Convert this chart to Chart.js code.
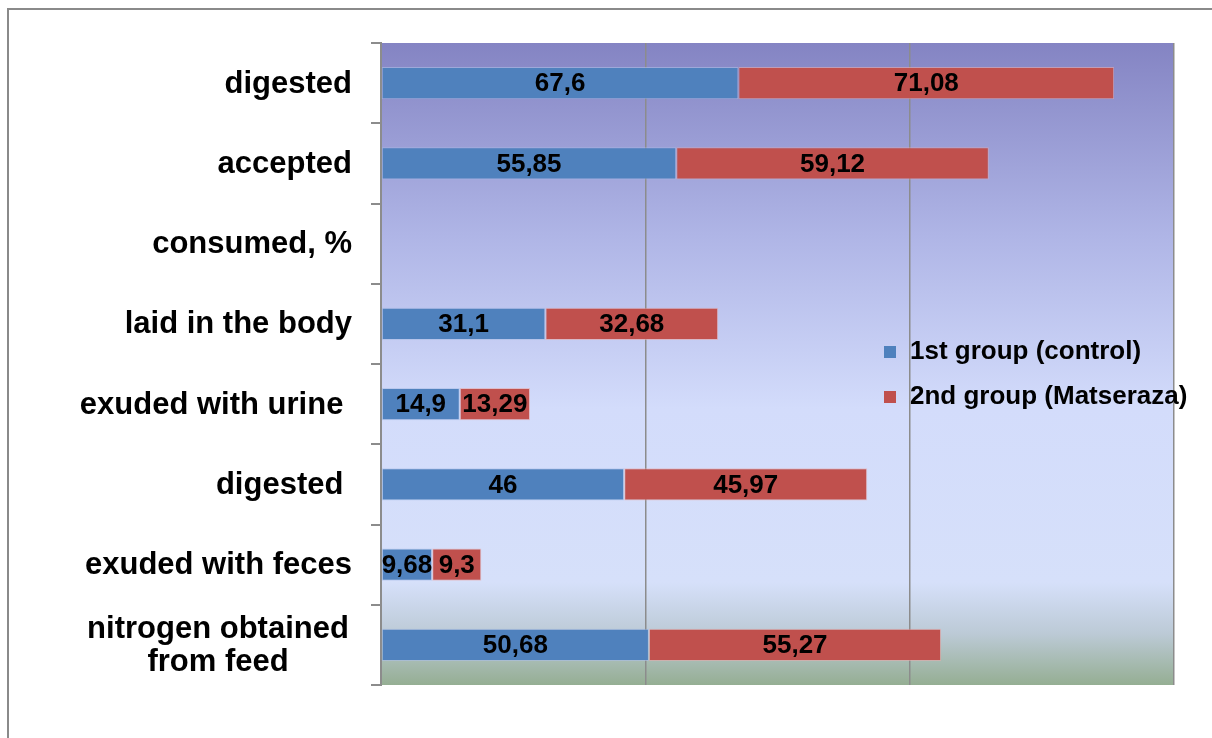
<!DOCTYPE html>
<html>
<head>
<meta charset="utf-8">
<script src="https://cdn.jsdelivr.net/npm/chart.js@4"></script>
<style>
  html, body { margin: 0; padding: 0; background: #fff; overflow: hidden; }
  #wrap { position: relative; width: 1212px; height: 738px; }
  #frame { position: absolute; left: 7px; top: 8px; width: 1300px; height: 800px;
           border-left: 2px solid #8a8a8a; border-top: 2px solid #8a8a8a; }
  canvas { position: absolute; left: 0; top: 0; }
</style>
</head>
<body>
<div id="wrap">
  <div id="frame"></div>
  <canvas id="grafico" width="1212" height="738"></canvas>
</div>
<script>
// categorias de arriba hacia abajo
const categorias = [
    'digested',
    'accepted',
    'consumed, %',
    'laid in the body',
    'exuded with urine ',
    'digested ',
    'exuded with feces',
    ['nitrogen obtained', 'from feed']
];
const grupo1 = [67.6, 55.85, null, 31.1, 14.9, 46, 9.68, 50.68];
const grupo2 = [71.08, 59.12, null, 32.68, 13.29, 45.97, 9.3, 55.27];
const nombresSeries = ['1st group (control)', '2nd group (Matseraza)'];
const colores = ['#4f81bd', '#c0504d'];
const ticksX = [0, 50, 100, 150];

const familia = '"Liberation Sans", Arial, sans-serif';
const fuenteEtiquetas = 'bold 31px ' + familia;
const fuenteValores = 'bold 26px ' + familia;

// fondo degradado del area del grafico
const fondoPlugin = {
    id: 'fondo',
    beforeDraw(chart) {
        const { ctx, chartArea: a } = chart;
        const g = ctx.createLinearGradient(0, a.top, 0, a.bottom);
        g.addColorStop(0, '#8484c3');
        g.addColorStop(0.3, '#afb5e6');
        g.addColorStop(0.57, '#d3dcfb');
        g.addColorStop(0.84, '#d6e0fa');
        g.addColorStop(0.92, '#bccad6');
        g.addColorStop(1, '#95ae93');
        ctx.save();
        ctx.fillStyle = g;
        ctx.fillRect(a.left, a.top, a.right - a.left, a.bottom - a.top);
        ctx.restore();
    }
};

// etiquetas del eje Y, valores y leyenda
const textosPlugin = {
    id: 'textos',
    afterDraw(chart) {
        const { ctx } = chart;
        const y = chart.scales.y;
        ctx.save();
        ctx.fillStyle = '#000';
        ctx.textBaseline = 'middle';

        // etiquetas de categoria
        ctx.font = fuenteEtiquetas;
        categorias.forEach((cat, i) => {
            const py = y.getPixelForValue(i) + 1;
            if (Array.isArray(cat)) {
                ctx.textAlign = 'center';
                ctx.fillText(cat[0], 218, py - 16);
                ctx.fillText(cat[1], 218, py + 17);
            } else {
                ctx.textAlign = 'right';
                ctx.fillText(cat, 352, py);
            }
        });

        // valores dentro de las barras
        ctx.font = fuenteValores;
        ctx.textAlign = 'center';
        chart.data.datasets.forEach((ds, di) => {
            const meta = chart.getDatasetMeta(di);
            meta.data.forEach((bar, i) => {
                const v = ds.data[i];
                if (v == null) return;
                const texto = String(v).replace('.', ',');
                ctx.fillText(texto, (bar.x + bar.base) / 2, bar.y + 1);
            });
        });

        // leyenda
        ctx.textAlign = 'left';
        nombresSeries.forEach((n, i) => {
            const ly = 352 + i * 45;
            ctx.fillStyle = colores[i];
            ctx.fillRect(884, ly - 6, 12, 12);
            ctx.fillStyle = '#000';
            ctx.fillText(n, 910, ly);
        });
        ctx.restore();
    }
};

const ctx = document.getElementById('grafico').getContext('2d');
new Chart(ctx, {
    type: 'bar',
    data: {
        labels: categorias,
        datasets: [
            { label: nombresSeries[0], data: grupo1, backgroundColor: colores[0],
              borderColor: 'rgba(170,190,230,0.6)', borderWidth: 1, borderSkipped: false },
            { label: nombresSeries[1], data: grupo2, backgroundColor: colores[1],
              borderColor: 'rgba(230,170,170,0.6)', borderWidth: 1, borderSkipped: false }
        ]
    },
    options: {
        indexAxis: 'y',
        responsive: false,
        animation: false,
        events: [],
        layout: { padding: { left: 0, top: 43, right: 38, bottom: 53 } },
        datasets: { bar: { barPercentage: 0.4, categoryPercentage: 1 } },
        plugins: {
            legend: { display: false },
            tooltip: { enabled: false },
            title: { display: false }
        },
        scales: {
            x: {
                stacked: true,
                min: 0,
                max: 150,
                afterBuildTicks(scale) { scale.ticks = ticksX.map(v => ({ value: v })); },
                afterFit(scale) { scale.height = 0; },
                ticks: { display: false },
                grid: { color: '#8c8c8c', lineWidth: 1.5, drawTicks: false },
                border: { display: false }
            },
            y: {
                stacked: true,
                afterFit(scale) { scale.width = 381; },
                ticks: { display: false },
                grid: { offset: true, drawOnChartArea: false, drawTicks: true, tickLength: 10,
                        color: '#8c8c8c', lineWidth: 2 },
                border: { display: true, color: '#8c8c8c', width: 2 }
            }
        }
    },
    plugins: [fondoPlugin, textosPlugin]
});
</script>
</body>
</html>
